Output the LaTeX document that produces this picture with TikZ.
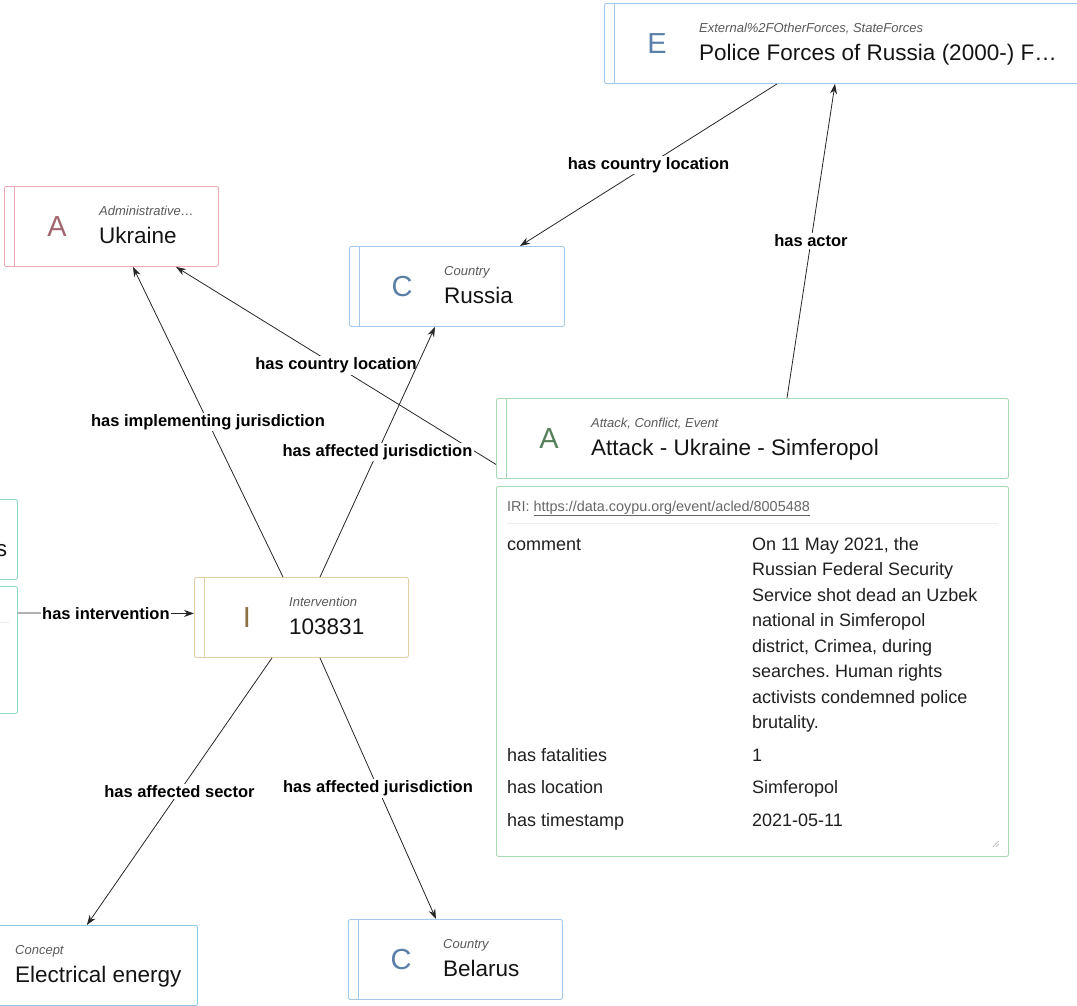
\documentclass[tikz,border=0pt]{standalone}
\usepackage{fontspec}
\setmainfont{Liberation Sans}
\usetikzlibrary{arrows.meta,calc}
\frenchspacing

\definecolor{ctryline}{HTML}{A2C8EA}
\definecolor{ctrytext}{HTML}{5B80A8}
\definecolor{admline}{HTML}{EBA8B0}
\definecolor{admtext}{HTML}{A2666F}
\definecolor{evtline}{HTML}{A6DAB5}
\definecolor{evttext}{HTML}{567F5C}
\definecolor{intline}{HTML}{E2CFA6}
\definecolor{inttext}{HTML}{8B7143}
\definecolor{cptline}{HTML}{84CCE2}
\definecolor{orgline}{HTML}{8ED8CD}

\tikzset{
  entity/.style={draw, rectangle, rounded corners=2pt, minimum height=80pt, line width=0.9pt, inner sep=0pt},
  letter/.style={font=\fontsize{29}{29}\selectfont},
  typelbl/.style={anchor=base west, inner sep=0pt, text=black!65, font=\itshape\fontsize{13}{13}\selectfont},
  mainlbl/.style={anchor=base west, inner sep=0pt, text=black!92, font=\fontsize{22.5}{22.5}\selectfont},
  rel/.style={-{Stealth[length=10pt,width=7pt]}, line width=0.8pt, black!85},
  rellbl/.style={midway, fill=white, inner sep=1.5pt, text=black, font=\bfseries\fontsize{16.5}{16.5}\selectfont},
  detail/.style={anchor=base west, inner sep=0pt, text=black!88, font=\fontsize{18}{25.5}\selectfont},
}

% box with a coloured letter, a type line and a name
\newcommand{\entitybox}[7]{%
  \node[entity, draw=#4line, minimum width=#3, anchor=north west] (#1) at (#2) {};
  \draw[#4line, line width=0.9pt] ([xshift=10pt]#1.north west) -- ([xshift=10pt]#1.south west);
  \node[letter, text=#4text] (#1-letter) at ([xshift=53pt]#1.west) {#5};
  \node[typelbl] (#1-type) at ([xshift=95pt,yshift=11pt]#1.west) {#6};
  \node[mainlbl] (#1-name) at ([xshift=95pt,yshift=-17pt]#1.west) {#7};
}

\begin{document}
\begin{tikzpicture}[x=1pt, y=-1pt]
  \path[use as bounding box] (0,0) rectangle (1077,1005);
  \clip (0,0) rectangle (1077,1005);

  % entities
  \entitybox{police}{604,3}{520pt}{ctry}{E}{External\%2FOtherForces, StateForces}{Police Forces of Russia (2000-) F…}
  \entitybox{ukraine}{4,186}{214pt}{adm}{A}{Administrative…}{Ukraine}
  \entitybox{russia}{349,246}{215pt}{ctry}{C}{Country}{Russia}
  \entitybox{attack}{496,398}{512pt}{evt}{A}{Attack, Conflict, Event}{Attack - Ukraine - Simferopol}
  \entitybox{interv}{194,577}{214pt}{int}{I}{Intervention}{103831}
  \entitybox{belarus}{348,919}{214pt}{ctry}{C}{Country}{Belarus}

  % boxes cut by the left edge
  \node[entity, draw=cptline, minimum width=277pt, anchor=north west] (energy) at (-80,925) {};
  \node[typelbl] (energy-type) at (15,954) {Concept};
  \node[mainlbl] (energy-name) at (15,982) {Electrical energy};

  \node[entity, draw=orgline, minimum width=317pt, anchor=north west] (org) at (-300,499) {};
  \node[mainlbl, anchor=base east] (org-name) at ($(org.east)+(-10.5,17)$) {s};
  \node[entity, draw=orgline, minimum width=317pt, minimum height=127pt, anchor=north west] (org-info) at (-300,586) {};
  \draw[black!8] ($(org-info.north west)+(11,36)$) -- ($(org-info.north east)+(-9,36)$);

  % details of the attack
  \node[entity, draw=evtline, minimum width=512pt, minimum height=370pt, anchor=north west] (attack-info) at (496,486) {};
  \node[anchor=base west, inner sep=0pt, text=black!60, font=\fontsize{14.4}{14.4}\selectfont] (attack-iri)
    at ($(attack-info.north west)+(11,25)$) {IRI: \underline{https://data.coypu.org/event/acled/8005488}};
  \draw[black!7, line width=1pt] ($(attack-info.north west)+(11,37)$) -- ($(attack-info.north east)+(-11,37)$);
  \node[detail] (key-comment) at (507,550) {comment};
  % base of a multi-line node is its last line
  \node[detail, align=left] (val-comment) at (752,728.5) {On 11 May 2021, the\\Russian Federal Security\\Service shot dead an Uzbek\\national in Simferopol\\district, Crimea, during\\searches. Human rights\\activists condemned police\\brutality.};
  \node[detail] (key-fatal) at (507,761) {has fatalities};
  \node[detail] (val-fatal) at (752,761) {1};
  \node[detail] (key-loc) at (507,793) {has location};
  \node[detail] (val-loc) at (752,793) {Simferopol};
  \node[detail] (key-time) at (507,826) {has timestamp};
  \node[detail] (val-time) at (752,826) {2021-05-11};
  \draw[black!35, line width=0.6pt] ($(attack-info.south east)+(-16,-10)$) -- ($(attack-info.south east)+(-10,-16)$)
    ($(attack-info.south east)+(-13,-10)$) -- ($(attack-info.south east)+(-10,-13)$);

  % relations
  \draw[rel] ([xshift=173pt]police.south west) -- ([xshift=171pt]russia.north west) node[rellbl] {has country location};
  \draw[rel] ([xshift=291pt]attack.north west) -- ([xshift=231pt]police.south west) node[rellbl] {has actor};
  \draw[rel] ([yshift=-26pt]attack.west) -- ([xshift=172pt]ukraine.south west) node[rellbl] {has country location};
  \draw[rel] ([xshift=89pt]interv.north west) -- ([xshift=129pt]ukraine.south west) node[rellbl] {has implementing jurisdiction};
  \draw[rel] ([xshift=126pt]interv.north west) -- ([xshift=86pt]russia.south west) node[rellbl] {has affected jurisdiction};
  \draw[rel] ([xshift=78pt]interv.south west) -- ([xshift=-111pt]energy.north east) node[rellbl] {has affected sector};
  \draw[rel] ([xshift=126pt]interv.south west) -- ([xshift=88pt]belarus.north west) node[rellbl] {has affected jurisdiction};
  \draw[rel] ([yshift=-27pt]org-info.north east) -- ([yshift=4pt]interv.west) node[rellbl] {has intervention};
\end{tikzpicture}
\end{document}
